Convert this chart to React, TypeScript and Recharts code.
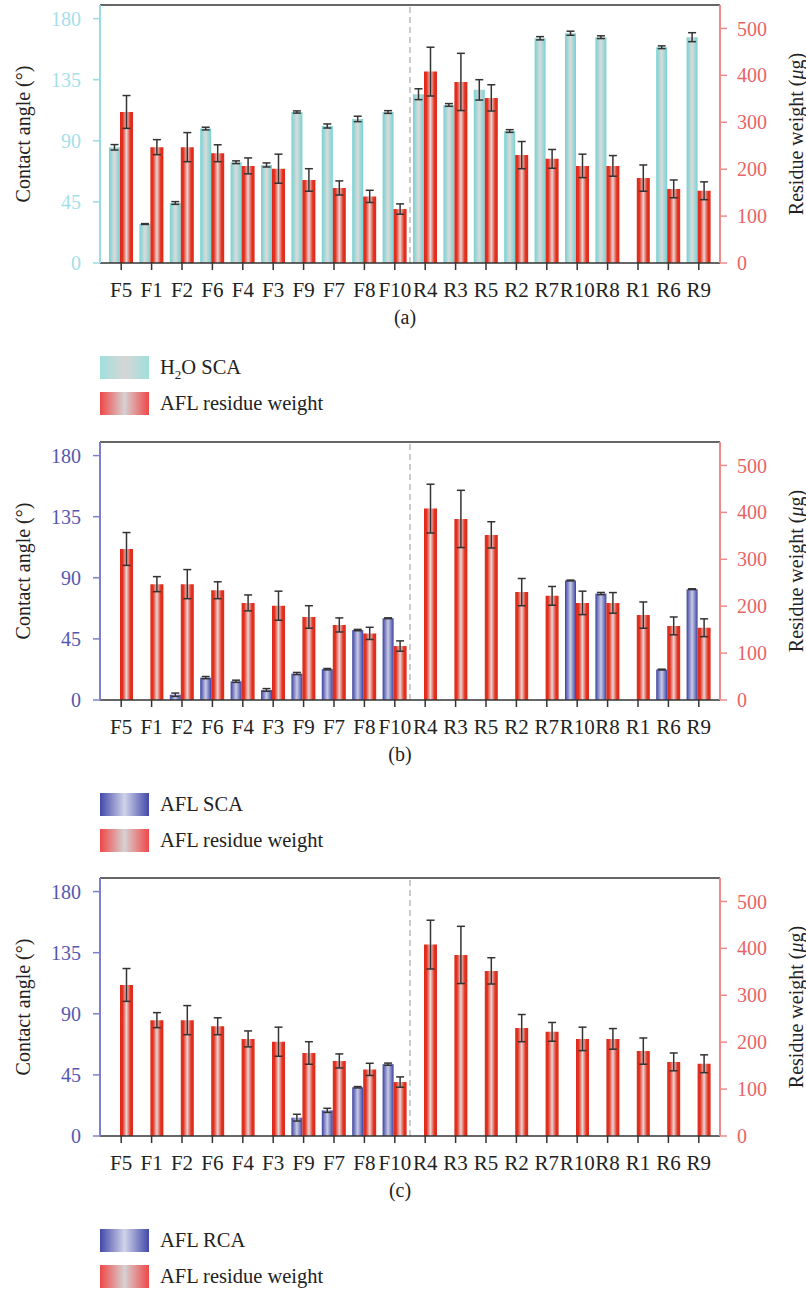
import React from "react"
import { ComposedChart, Bar, XAxis, YAxis, ErrorBar, ReferenceLine } from "recharts"

const samples = ["F5", "F1", "F2", "F6", "F4", "F3", "F9", "F7", "F8", "F10",
  "R4", "R3", "R5", "R2", "R7", "R10", "R8", "R1", "R6", "R9"]

// AFL residue weight (µg) – same measurements in all three panels
const residue = [322, 247, 247, 234, 207, 201, 177, 160, 142, 115,
  408, 386, 352, 230, 222, 207, 207, 181, 158, 154]
const residueErr = [35, 16, 31, 18, 17, 31, 24, 15, 13, 11,
  52, 61, 28, 29, 20, 25, 22, 28, 19, 19]

// H2O static contact angle (°)
const h2oSca = [85.2, 28.7, 44.2, 99.0, 74.2, 72.2, 111.2, 100.9, 106.1, 111.2,
  124.3, 116.4, 127.5, 97.2, 165.5, 169.2, 166.3, null, 158.9, 166.3]
const h2oScaErr = [2, 0.3, 1, 1, 1, 1.5, 0.8, 1.5, 2, 1,
  4, 1, 7.5, 1, 1.2, 1.5, 1, null, 1, 3.3]

// AFL static contact angle (°)
const aflSca = [null, null, 3.9, 16.5, 13.8, 7.4, 19.5, 22.7, 51.5, 60.2,
  null, null, null, null, null, 88.0, 78.4, null, 22.4, 81.6]
const aflScaErr = [null, null, 1.2, 0.8, 0.8, 1, 0.8, 0.5, 0.5, 0.3,
  null, null, null, null, null, 0.3, 0.8, null, 0.3, 0.3]

// AFL rolling contact angle (°)
const aflRca = [null, null, null, null, null, null, 13.5, 18.9, 35.9, 52.9,
  null, null, null, null, null, null, null, null, null, null]
const aflRcaErr = [null, null, null, null, null, null, 2.5, 1.5, 0.5, 0.8,
  null, null, null, null, null, null, null, null, null, null]

const angleTicks = [0, 45, 90, 135, 180]
const weightTicks = [0, 100, 200, 300, 400, 500]

const FONT = "'Liberation Serif', 'Times New Roman', serif"

function AxisTitle({ viewBox, value, unit, dx }: any) {
  const cx = viewBox.x + viewBox.width / 2 + dx
  const cy = viewBox.y + viewBox.height / 2
  return (
    <text x={cx} y={cy} transform={`rotate(-90, ${cx}, ${cy})`} textAnchor="middle"
      dominantBaseline="central" fill="#222" fontSize={20} fontFamily={FONT}>
      {value}
      {unit}
    </text>
  )
}

interface PanelProps {
  id: string
  top: number
  angle: (number | null)[]
  angleErr: (number | null)[]
  barEdge: string
  barMid: string
  legEdge: string
  legMid: string
  axisLine: string
  axisText: string
  legend: React.ReactNode
  caption: string
  captionX: number
}

function Panel(p: PanelProps) {
  const data = samples.map((name, i) => ({
    name,
    angle: p.angle[i],
    angleErr: p.angleErr[i],
    residue: residue[i],
    residueErr: residueErr[i],
  }))
  return (
    <>
      <div style={{ position: "absolute", left: 0, top: p.top }}>
        <ComposedChart width={830} height={310} data={data} barGap={0}
          margin={{ top: 5, right: 50, bottom: 7, left: 40 }}>
          <defs>
            <linearGradient id={`ang-${p.id}`} x1="0" y1="0" x2="1" y2="0">
              <stop offset="0%" stopColor={p.barEdge} />
              <stop offset="50%" stopColor={p.barMid} />
              <stop offset="100%" stopColor={p.barEdge} />
            </linearGradient>
            <linearGradient id={`res-${p.id}`} x1="0" y1="0" x2="1" y2="0">
              <stop offset="0%" stopColor="#e0281a" />
              <stop offset="20%" stopColor="#e2321f" />
              <stop offset="50%" stopColor="#ead4d4" />
              <stop offset="80%" stopColor="#e2321f" />
              <stop offset="100%" stopColor="#e0281a" />
            </linearGradient>
          </defs>
          <XAxis dataKey="name" interval={0} padding={{ left: 6, right: 6 }} height={40}
            tickSize={7} tickMargin={12}
            axisLine={{ stroke: "#333", strokeWidth: 1.5 }}
            tickLine={{ stroke: "#333", strokeWidth: 1.5 }}
            tick={{ fill: "#222", fontSize: 21, fontFamily: FONT }} />
          <XAxis xAxisId="n" type="number" domain={[-0.5, 19.5]} padding={{ left: 6, right: 6 }} hide />
          <YAxis yAxisId="l" domain={[0, 190]} ticks={angleTicks} width={60}
            tickSize={7} tickMargin={12}
            axisLine={{ stroke: p.axisLine, strokeWidth: 2 }}
            tickLine={{ stroke: p.axisLine, strokeWidth: 1.5 }}
            tick={{ fill: p.axisText, fontSize: 20, fontFamily: FONT }}
            label={<AxisTitle value="Contact angle (°)" dx={-47} />} />
          <YAxis yAxisId="r" orientation="right" domain={[0, 550]} ticks={weightTicks} width={60}
            tickSize={7} tickMargin={10}
            axisLine={{ stroke: "#f08a8a", strokeWidth: 2 }}
            tickLine={{ stroke: "#f08a8a", strokeWidth: 1.5 }}
            tick={{ fill: "#e86464", fontSize: 20, fontFamily: FONT }}
            label={<AxisTitle value="Residue weight (" unit={<><tspan fontStyle="italic">μ</tspan>g)</>} dx={46} />} />
          <ReferenceLine yAxisId="l" y={190} stroke="#333" strokeWidth={1.5} />
          <ReferenceLine xAxisId="n" yAxisId="l" x={9.5} stroke="#aaa" strokeWidth={1.2} strokeDasharray="6 4" />
          <Bar yAxisId="l" dataKey="angle" barSize={11} fill={`url(#ang-${p.id})`} isAnimationActive={false}>
            <ErrorBar dataKey="angleErr" width={4} stroke="#333" strokeWidth={1.5} direction="y" />
          </Bar>
          <Bar yAxisId="r" dataKey="residue" barSize={13} fill={`url(#res-${p.id})`} isAnimationActive={false}>
            <ErrorBar dataKey="residueErr" width={4} stroke="#333" strokeWidth={1.5} direction="y" />
          </Bar>
        </ComposedChart>
      </div>
      <div style={{ position: "absolute", left: p.captionX - 30, top: p.top + 305, width: 60,
        textAlign: "center", fontSize: 20, lineHeight: "24px", color: "#222" }}>{p.caption}</div>
      {[
        { label: p.legend, edge: p.legEdge, mid: p.legMid, y: 356 },
        { label: "AFL residue weight", edge: "#f04848", mid: "#d6d0d0", y: 392 },
      ].map((row, i) => (
        <React.Fragment key={i}>
          <div style={{ position: "absolute", left: 100, top: p.top + row.y, width: 49, height: 23,
            background: `linear-gradient(to right, ${row.edge}, ${row.mid}, ${row.edge})` }} />
          <div style={{ position: "absolute", left: 160, top: p.top + row.y - 1, fontSize: 20.5,
            lineHeight: "24px", color: "#222", whiteSpace: "nowrap" }}>{row.label}</div>
        </React.Fragment>
      ))}
    </>
  )
}

export default function App() {
  return (
    <div style={{ position: "absolute", left: 0, top: 0, width: 806, height: 1293, overflow: "hidden",
      fontFamily: FONT, background: "#fff" }}>
      <Panel id="a" top={0} angle={h2oSca} angleErr={h2oScaErr}
        barEdge="#74d2d2" barMid="#dadada" legEdge="#9fe0dc" legMid="#d6d6d6"
        axisLine="#9adbe8" axisText="#a3dfea"
        legend={<>H<sub style={{ fontSize: 13 }}>2</sub>O SCA</>} caption="(a)" captionX={405} />
      <Panel id="b" top={437} angle={aflSca} angleErr={aflScaErr}
        barEdge="#3b41a2" barMid="#c9cbe6" legEdge="#4349a8" legMid="#d0d3ea"
        axisLine="#7c80cc" axisText="#5558b2"
        legend="AFL SCA" caption="(b)" captionX={400} />
      <Panel id="c" top={873} angle={aflRca} angleErr={aflRcaErr}
        barEdge="#3b41a2" barMid="#c9cbe6" legEdge="#4349a8" legMid="#d0d3ea"
        axisLine="#7c80cc" axisText="#5558b2"
        legend="AFL RCA" caption="(c)" captionX={400} />
    </div>
  )
}
